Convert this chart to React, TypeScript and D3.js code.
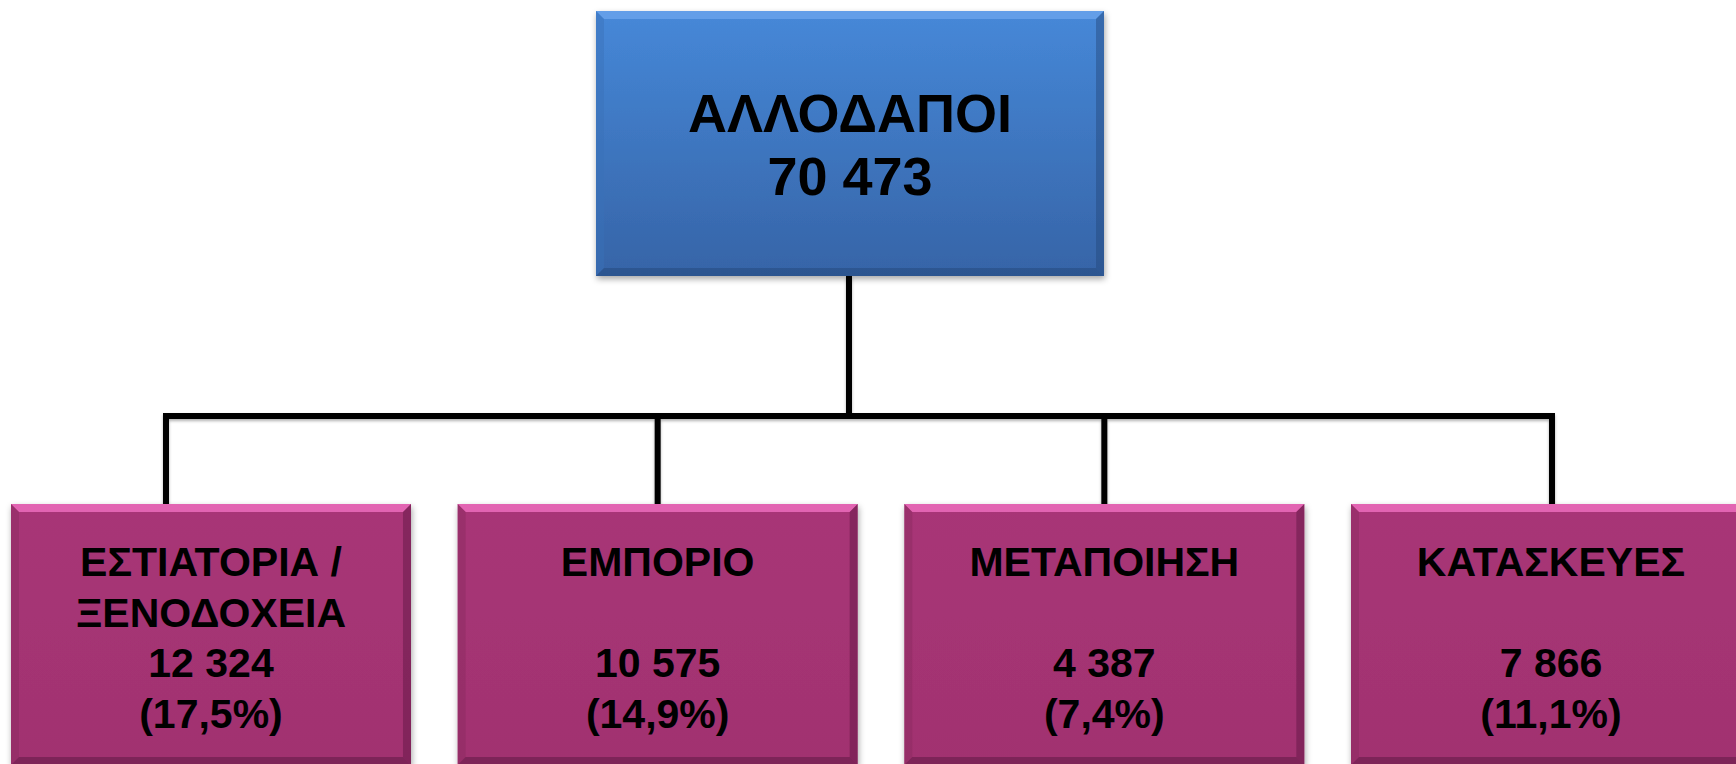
import React, { useEffect, useRef } from "react";
import * as d3 from "d3";

const rootLabel = ["ΑΛΛΟΔΑΠΟΙ", "70 473"];
const categories = ["ΕΣΤΙΑΤΟΡΙΑ / ΞΕΝΟΔΟΧΕΙΑ", "ΕΜΠΟΡΙΟ", "ΜΕΤΑΠΟΙΗΣΗ", "ΚΑΤΑΣΚΕΥΕΣ"];
const categoryLines = [["ΕΣΤΙΑΤΟΡΙΑ /", "ΞΕΝΟΔΟΧΕΙΑ"], ["ΕΜΠΟΡΙΟ", ""], ["ΜΕΤΑΠΟΙΗΣΗ", ""], ["ΚΑΤΑΣΚΕΥΕΣ", ""]];
const values = ["12 324", "10 575", "4 387", "7 866"];
const percents = ["(17,5%)", "(14,9%)", "(7,4%)", "(11,1%)"];

const W = 1736;
const H = 764;

export default function App() {
  const ref = useRef<SVGSVGElement | null>(null);

  useEffect(() => {
    const svg = d3.select(ref.current);
    svg.selectAll("*").remove();
    const defs = svg.append("defs");

    const gBlue = defs.append("linearGradient").attr("id", "gBlue").attr("x1", 0).attr("y1", 0).attr("x2", 0).attr("y2", 1);
    gBlue.append("stop").attr("offset", "0%").attr("stop-color", "#4688d8");
    gBlue.append("stop").attr("offset", "100%").attr("stop-color", "#3664a7");

    const gMag = defs.append("linearGradient").attr("id", "gMag").attr("x1", 0).attr("y1", 0).attr("x2", 0).attr("y2", 1);
    gMag.append("stop").attr("offset", "0%").attr("stop-color", "#a83677");
    gMag.append("stop").attr("offset", "100%").attr("stop-color", "#a13270");

    const sh = defs.append("filter").attr("id", "shadow").attr("x", "-10%").attr("y", "-10%").attr("width", "120%").attr("height", "130%");
    sh.append("feDropShadow").attr("dx", 1).attr("dy", 3).attr("stdDeviation", 3).attr("flood-color", "#000").attr("flood-opacity", 0.35);

    const lineSh = defs.append("filter").attr("id", "lshadow").attr("x", "-10%").attr("y", "-50%").attr("width", "120%").attr("height", "200%");
    lineSh.append("feDropShadow").attr("dx", 0).attr("dy", 2).attr("stdDeviation", 1.5).attr("flood-color", "#000").attr("flood-opacity", 0.3);

    const font = "'Liberation Sans', Arial, sans-serif";

    function bevelBox(g: any, x: number, y: number, w: number, h: number, fill: string, light: string, dark: string, side: string) {
      const b = 8;
      g.append("rect").attr("x", x).attr("y", y).attr("width", w).attr("height", h).attr("fill", fill).attr("filter", "url(#shadow)");
      const poly = (pts: number[][], c: string, op: number) =>
        g.append("polygon").attr("points", pts.map((p) => p.join(",")).join(" ")).attr("fill", c).attr("opacity", op);
      poly([[x, y], [x + w, y], [x + w - b, y + b], [x + b, y + b]], light, 0.8);
      poly([[x, y], [x + b, y + b], [x + b, y + h - b], [x, y + h]], side, 0.45);
      poly([[x + w, y], [x + w, y + h], [x + w - b, y + h - b], [x + w - b, y + b]], dark, 0.45);
      poly([[x, y + h], [x + b, y + h - b], [x + w - b, y + h - b], [x + w, y + h]], dark, 0.5);
    }

    // Root box
    const root = { x: 596, y: 11, w: 508, h: 265 };
    const rootG = svg.append("g");
    bevelBox(rootG, root.x, root.y, root.w, root.h, "url(#gBlue)", "#6aa4ec", "#24477a", "#3a70b8");
    rootLabel.forEach((t, i) => {
      rootG.append("text").attr("x", root.x + root.w / 2).attr("y", 132 + i * 63)
        .attr("text-anchor", "middle").attr("font-family", font).attr("font-weight", "bold")
        .attr("font-size", 54).attr("fill", "#000").text(t);
    });

    // Child layout via band scale
    const x = d3.scaleBand<string>().domain(categories).range([11, 1751]).paddingInner(0.1045).paddingOuter(0);
    const bw = x.bandwidth();
    const childTop = 504;
    const childH = 261;
    const busY = 416;
    const connX = categories.map((c, i) => (i === 0 ? (x(c) as number) + 155 : (x(c) as number) + bw / 2 - (i === 3 ? 2 : 0)));

    // Connectors
    const lines = svg.append("g").attr("stroke", "#000").attr("stroke-width", 6).attr("fill", "none").attr("filter", "url(#lshadow)");
    const rootCx = root.x + root.w / 2 - 1;
    lines.append("line").attr("x1", rootCx).attr("x2", rootCx).attr("y1", root.y + root.h).attr("y2", busY);
    lines.append("path").attr("d", d3.line()([[connX[0], childTop], [connX[0], busY], [connX[3] + 3, busY], [connX[3] + 3, childTop]]))
      .attr("stroke-linejoin", "miter");
    connX.slice(1, 3).forEach((cx) => {
      lines.append("line").attr("x1", cx).attr("x2", cx).attr("y1", busY).attr("y2", childTop);
    });

    // Child boxes
    categories.forEach((c, i) => {
      const g = svg.append("g");
      const bx = x(c) as number;
      bevelBox(g, bx, childTop, bw, childH, "url(#gMag)", "#f070c0", "#5a1540", "#8a2a60");
      const rows = [categoryLines[i][0], categoryLines[i][1], values[i], percents[i]];
      rows.forEach((t, j) => {
        if (!t) return;
        g.append("text").attr("x", bx + bw / 2).attr("y", 576 + j * 50.5)
          .attr("text-anchor", "middle").attr("font-family", font).attr("font-weight", "bold")
          .attr("font-size", 41).attr("fill", "#000").text(t);
      });
    });
  }, []);

  return (
    <div style={{ position: "absolute", left: 0, top: 0, width: W, height: H, overflow: "hidden", background: "#fff" }}>
      <svg ref={ref} width={W} height={H} style={{ display: "block" }} />
    </div>
  );
}
